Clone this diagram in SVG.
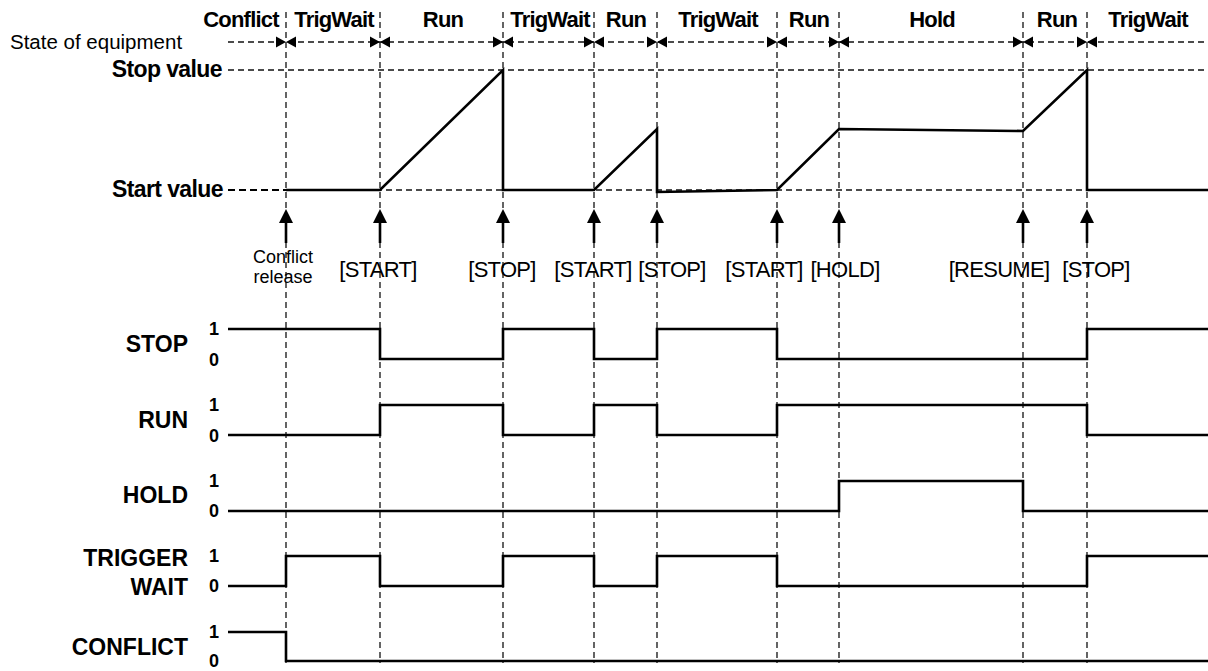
<svg xmlns="http://www.w3.org/2000/svg" width="1208" height="671" viewBox="0 0 1208 671">
<style>
text{font-family:"Liberation Sans",Arial,sans-serif;fill:#000}
.hdr{font-size:22px;font-weight:bold;text-anchor:middle;letter-spacing:-0.8px}
.lvl{font-size:23px;font-weight:bold;text-anchor:end;letter-spacing:-0.6px}
.ev{font-size:22px;text-anchor:middle;letter-spacing:-0.7px}
.sig{font-size:23px;font-weight:bold;text-anchor:end}
.dig{font-size:18px;font-weight:bold;text-anchor:middle}
.dash{stroke:#111;stroke-width:1.3;stroke-dasharray:6 4;fill:none}
.dashb{stroke:#000;stroke-width:2.2;stroke-dasharray:7 4;fill:none}
.trace{stroke:#000;stroke-width:2.6;fill:none;stroke-linejoin:miter}
</style>
<defs>
<g id="bow"><path d="M-10,-5.5 L0,0 L-10,5.5 Z M10,-5.5 L0,0 L10,5.5 Z" fill="#000"/></g>
<g id="arrow"><line x1="0" y1="243" x2="0" y2="220" stroke="#000" stroke-width="2.6"/><path d="M0,209 L7,223 L-7,223 Z" fill="#000"/></g>
</defs>

<g id="grid">
<line class="dash" x1="228" y1="42" x2="1208" y2="42"/>
<line class="dash" x1="228" y1="70" x2="1208" y2="70"/>
<line class="dash" x1="286" y1="190" x2="1208" y2="190"/>
<line class="dashb" x1="228" y1="190" x2="286" y2="190"/>
<line class="dash" x1="286" y1="12" x2="286" y2="663"/>
<line class="dash" x1="380" y1="12" x2="380" y2="663"/>
<line class="dash" x1="503" y1="12" x2="503" y2="663"/>
<line class="dash" x1="594" y1="12" x2="594" y2="663"/>
<line class="dash" x1="657" y1="12" x2="657" y2="663"/>
<line class="dash" x1="777" y1="12" x2="777" y2="663"/>
<line class="dash" x1="839" y1="12" x2="839" y2="663"/>
<line class="dash" x1="1023" y1="12" x2="1023" y2="663"/>
<line class="dash" x1="1087" y1="12" x2="1087" y2="663"/>
</g>

<g id="state-markers">
<use href="#bow" x="286" y="42"/>
<use href="#bow" x="380" y="42"/>
<use href="#bow" x="503" y="42"/>
<use href="#bow" x="594" y="42"/>
<use href="#bow" x="657" y="42"/>
<use href="#bow" x="777" y="42"/>
<use href="#bow" x="839" y="42"/>
<use href="#bow" x="1023" y="42"/>
<use href="#bow" x="1087" y="42"/>
</g>

<g id="state-labels">
<text class="hdr" x="241" y="27">Conflict</text>
<text class="hdr" x="334" y="27">TrigWait</text>
<text class="hdr" x="443" y="27">Run</text>
<text class="hdr" x="550" y="27">TrigWait</text>
<text class="hdr" x="626" y="27">Run</text>
<text class="hdr" x="718" y="27">TrigWait</text>
<text class="hdr" x="809" y="27">Run</text>
<text class="hdr" x="932" y="27">Hold</text>
<text class="hdr" x="1057" y="27">Run</text>
<text class="hdr" x="1148" y="27">TrigWait</text>
</g>

<g id="equipment">
<text x="10" y="49" style="font-size:20.5px">State of equipment</text>
<text class="lvl" x="222" y="77">Stop value</text>
<text class="lvl" x="223" y="197">Start value</text>
<polyline class="trace" points="286,190 380,190 503,70 503,190 594,190 657,129 657,192 777,190 839,129 1023,131 1087,70 1087,190 1208,190"/>
</g>

<g id="events">
<use href="#arrow" x="286"/>
<use href="#arrow" x="380"/>
<use href="#arrow" x="503"/>
<use href="#arrow" x="594"/>
<use href="#arrow" x="657"/>
<use href="#arrow" x="777"/>
<use href="#arrow" x="839"/>
<use href="#arrow" x="1023"/>
<use href="#arrow" x="1087"/>
<text x="283" y="263" style="font-size:18px;text-anchor:middle">Conflict</text>
<text x="283" y="283" style="font-size:18px;text-anchor:middle">release</text>
<text class="ev" x="378" y="277">[START]</text>
<text class="ev" x="502" y="277">[STOP]</text>
<text class="ev" x="593" y="277">[START]</text>
<text class="ev" x="672" y="277">[STOP]</text>
<text class="ev" x="764" y="277">[START]</text>
<text class="ev" x="845" y="277">[HOLD]</text>
<text class="ev" x="999" y="277">[RESUME]</text>
<text class="ev" x="1096" y="277">[STOP]</text>
</g>

<g id="sig-stop">
<text class="sig" x="188" y="352">STOP</text>
<text class="dig" x="214" y="335">1</text>
<text class="dig" x="214" y="366">0</text>
<polyline class="trace" points="228,329 380,329 380,359 503,359 503,329 594,329 594,359 657,359 657,329 777,329 777,359 1087,359 1087,329 1208,329"/>
</g>

<g id="sig-run">
<text class="sig" x="188" y="428">RUN</text>
<text class="dig" x="214" y="411">1</text>
<text class="dig" x="214" y="442">0</text>
<polyline class="trace" points="228,435 380,435 380,405 503,405 503,435 594,435 594,405 657,405 657,435 777,435 777,405 1087,405 1087,435 1208,435"/>
</g>

<g id="sig-hold">
<text class="sig" x="188" y="503">HOLD</text>
<text class="dig" x="214" y="487">1</text>
<text class="dig" x="214" y="517">0</text>
<polyline class="trace" points="228,511 839,511 839,481 1023,481 1023,511 1208,511"/>
</g>

<g id="sig-trigwait">
<text class="sig" x="188" y="566">TRIGGER</text>
<text class="sig" x="188" y="595">WAIT</text>
<text class="dig" x="214" y="562">1</text>
<text class="dig" x="214" y="592">0</text>
<polyline class="trace" points="228,586 286,586 286,556 380,556 380,586 503,586 503,556 594,556 594,586 657,586 657,556 777,556 777,586 1087,586 1087,556 1208,556"/>
</g>

<g id="sig-conflict">
<text class="sig" x="188" y="655">CONFLICT</text>
<text class="dig" x="214" y="638">1</text>
<text class="dig" x="214" y="667">0</text>
<polyline class="trace" points="228,632 286,632 286,661 1208,661"/>
</g>
</svg>
